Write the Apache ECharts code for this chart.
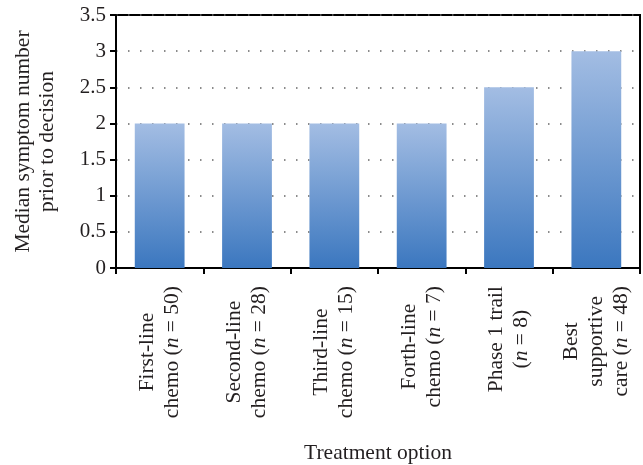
<!DOCTYPE html>
<html><head><meta charset="utf-8">
<script src="https://cdn.jsdelivr.net/npm/echarts@6/dist/echarts.min.js"></script>
<style>html,body{margin:0;padding:0;background:#fff}#c{width:643px;height:465px}</style>
</head><body><div id="c"></div>
<script>
const categories = [
  'First-line\nchemo (n = 50)',
  'Second-line\nchemo (n = 28)',
  'Third-line\nchemo (n = 15)',
  'Forth-line\nchemo (n = 7)',
  'Phase 1 trail\n(n = 8)',
  'Best\nsupportive\ncare (n = 48)'
];
const medianSymptoms = [2, 2, 2, 2, 2.5, 3];
const yAxisTitle = 'Median symptom number\nprior to decision';
const xAxisTitle = 'Treatment option';

const FONT = 'Liberation Serif';
const TXT = '#231f20';

function fmt(v) {
  return v.split('\n').map(function (line) {
    const m = line.match(/^(.*)\(n = (\d+)\)(.*)$/);
    if (!m) return '{t|' + line + '}';
    return '{t|' + m[1] + '(}{i|n}{t| = ' + m[2] + ')' + m[3] + '}';
  }).join('\n');
}

const chart = echarts.init(document.getElementById('c'));
chart.setOption({
  animation: false,
  grid: { left: 116, right: 3, top: 15, bottom: 197, show: true, borderColor: '#000', borderWidth: 2, containLabel: false, outerBoundsMode: 'none' },
  xAxis: {
    type: 'category',
    data: categories,
    name: xAxisTitle,
    nameLocation: 'middle',
    nameGap: 174,
    nameTextStyle: { fontFamily: FONT, fontSize: 21.5, color: TXT },
    axisLine: { lineStyle: { color: '#000', width: 2 } },
    axisTick: { show: true, length: 6, lineStyle: { color: '#000', width: 2 } },
    axisLabel: {
      rotate: 90, margin: 18, interval: 0,
      formatter: fmt,
      rich: {
        t: { fontFamily: FONT, fontSize: 21.5, color: TXT, align: 'center', lineHeight: 25 },
        i: { fontFamily: FONT, fontSize: 21.5, color: TXT, align: 'center', lineHeight: 25, fontStyle: 'italic' }
      }
    }
  },
  yAxis: {
    type: 'value', min: 0, max: 3.5, interval: 0.5,
    name: yAxisTitle,
    nameLocation: 'middle',
    nameGap: 57,
    nameTextStyle: { fontFamily: FONT, fontSize: 21.5, color: TXT, lineHeight: 24 },
    axisLine: { show: true, lineStyle: { color: '#000', width: 2 } },
    axisTick: { show: true, length: 6, lineStyle: { color: '#000', width: 2 } },
    axisLabel: { fontFamily: FONT, fontSize: 21, color: TXT, margin: 10 },
    splitLine: { show: true, lineStyle: { color: '#666', width: 1.5, type: [1.5, 10.5] } }
  },
  series: [{
    type: 'bar',
    data: medianSymptoms,
    barWidth: '57%',
    itemStyle: {
      color: new echarts.graphic.LinearGradient(0, 0, 0, 1, [
        { offset: 0, color: '#a3bde3' },
        { offset: 1, color: '#3b77bf' }
      ])
    }
  }]
});
</script></body></html>
